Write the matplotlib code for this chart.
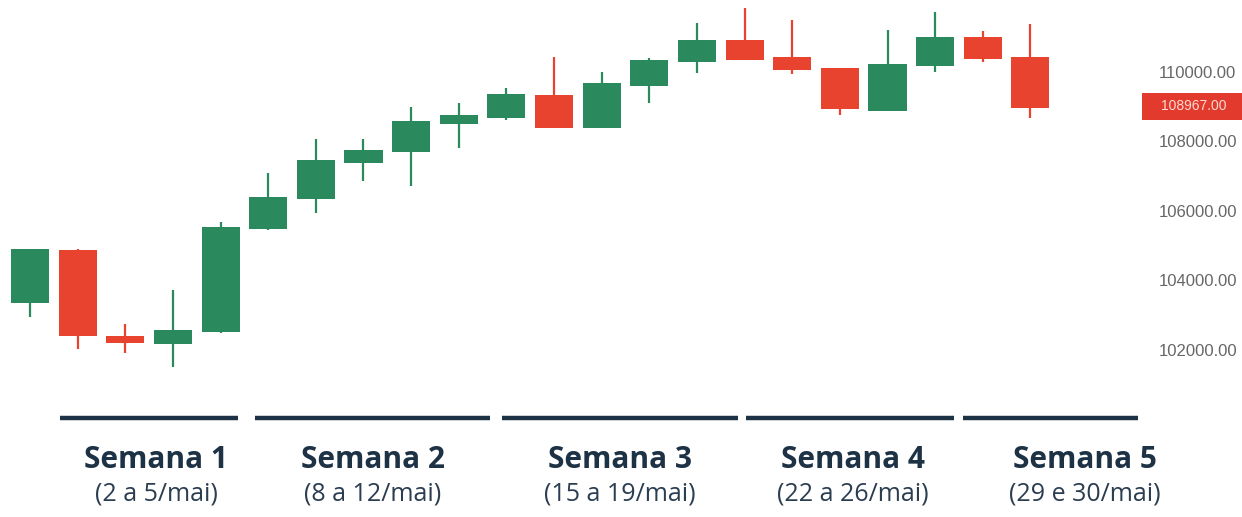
import matplotlib
matplotlib.use("Agg")
import matplotlib.pyplot as plt
import matplotlib.transforms as mtransforms
from matplotlib.patches import Rectangle
import numpy as np

# daily candles, 2 to 30 May
opens = [103352, 104877, 102402, 102172, 102517,
         105481, 106345, 107381, 107698, 108503,
         108676, 109338, 108388, 109597, 110288,
         110921, 110432, 110115, 108878, 110173,
         111007, 110432]
highs = [104920, 104900, 102748, 103726, 105683,
         107093, 108072, 108072, 108993, 109108,
         109540, 110432, 110000, 110403, 111410,
         111842, 111497, 110115, 111209, 111727,
         111180, 111381]
lows = [102949, 102028, 101913, 101510, 102490,
        105453, 105942, 106863, 106719, 107813,
        108619, 108388, 108388, 109108, 109971,
        110345, 109942, 108762, 108878, 110000,
        110288, 108676]
closes = [104906, 102402, 102201, 102575, 105539,
          106403, 107467, 107755, 108590, 108762,
          109367, 108388, 109683, 110345, 110921,
          110345, 110058, 108935, 110230, 111007,
          110374, 108967]

week_titles = ["Semana 1", "Semana 2", "Semana 3", "Semana 4", "Semana 5"]
week_dates = ["(2 a 5/mai)", "(8 a 12/mai)", "(15 a 19/mai)",
              "(22 a 26/mai)", "(29 e 30/mai)"]
yticks = [102000, 104000, 106000, 108000, 110000]

GREEN = "#2a8a5d"
RED = "#e8432f"
NAVY = "#1d3245"

W, H = 1242, 517
fig = plt.figure(figsize=(W / 100, H / 100), dpi=100)
fig.patch.set_facecolor("white")
ax = fig.add_axes([0, 1 - 390 / H, 1140 / W, 390 / H])

x = np.arange(len(opens))
o = np.array(opens)
c = np.array(closes)
up = c >= o
colors = np.where(up, GREEN, RED)

ax.vlines(x, lows, highs, colors=colors, linewidth=1.6, zorder=2)
ax.bar(x, np.maximum(np.abs(c - o), 60), width=0.8,
       bottom=np.minimum(o, c), color=colors, zorder=3)

ax.set_xlim(-0.63, 23.3)
ax.set_ylim(100848, 112072)
ax.set_xticks([])
ax.yaxis.tick_right()
ax.set_yticks(yticks)
ax.set_yticklabels([f"{v:.2f}" for v in yticks])
ax.tick_params(axis="y", length=0, pad=13.5, labelsize=12, labelcolor="#666666")
for lab in ax.get_yticklabels():
    lab.set_family("Liberation Sans")
for s in ax.spines.values():
    s.set_visible(False)

# last price tag on the right axis
trans = mtransforms.blended_transform_factory(ax.transAxes, ax.transData)
tag_h = 780
ax.add_patch(Rectangle((1.002, closes[-1] - tag_h / 2 + 40), 0.1, tag_h,
                       transform=trans, fc="#e23a2c", ec="none", clip_on=False))
ax.text(1.047, closes[-1] + 40, f"{closes[-1]:.2f}", transform=trans,
        ha="center", va="center", fontsize=10, color="#ffd9d4",
        family="Liberation Sans", clip_on=False)

# week separators and labels
lines_px = [(60, 238), (255, 490), (502, 738), (746, 954), (963, 1138)]
text_px = [156, 373, 620, 853, 1085]
for (x0, x1), tx, t, d in zip(lines_px, text_px, week_titles, week_dates):
    fig.add_artist(plt.Line2D([x0 / W, x1 / W], [1 - 418 / H] * 2,
                              color=NAVY, linewidth=3.2, solid_capstyle="butt"))
    fig.text(tx / W, 1 - 460 / H, t, ha="center", va="center",
             fontsize=21.5, fontweight="bold", color=NAVY, family="Open Sans")
    fig.text(tx / W, 1 - 494 / H, d, ha="center", va="center",
             fontsize=18, color="#2b3d50", family="Open Sans")

fig.savefig("out.png", dpi=100)
